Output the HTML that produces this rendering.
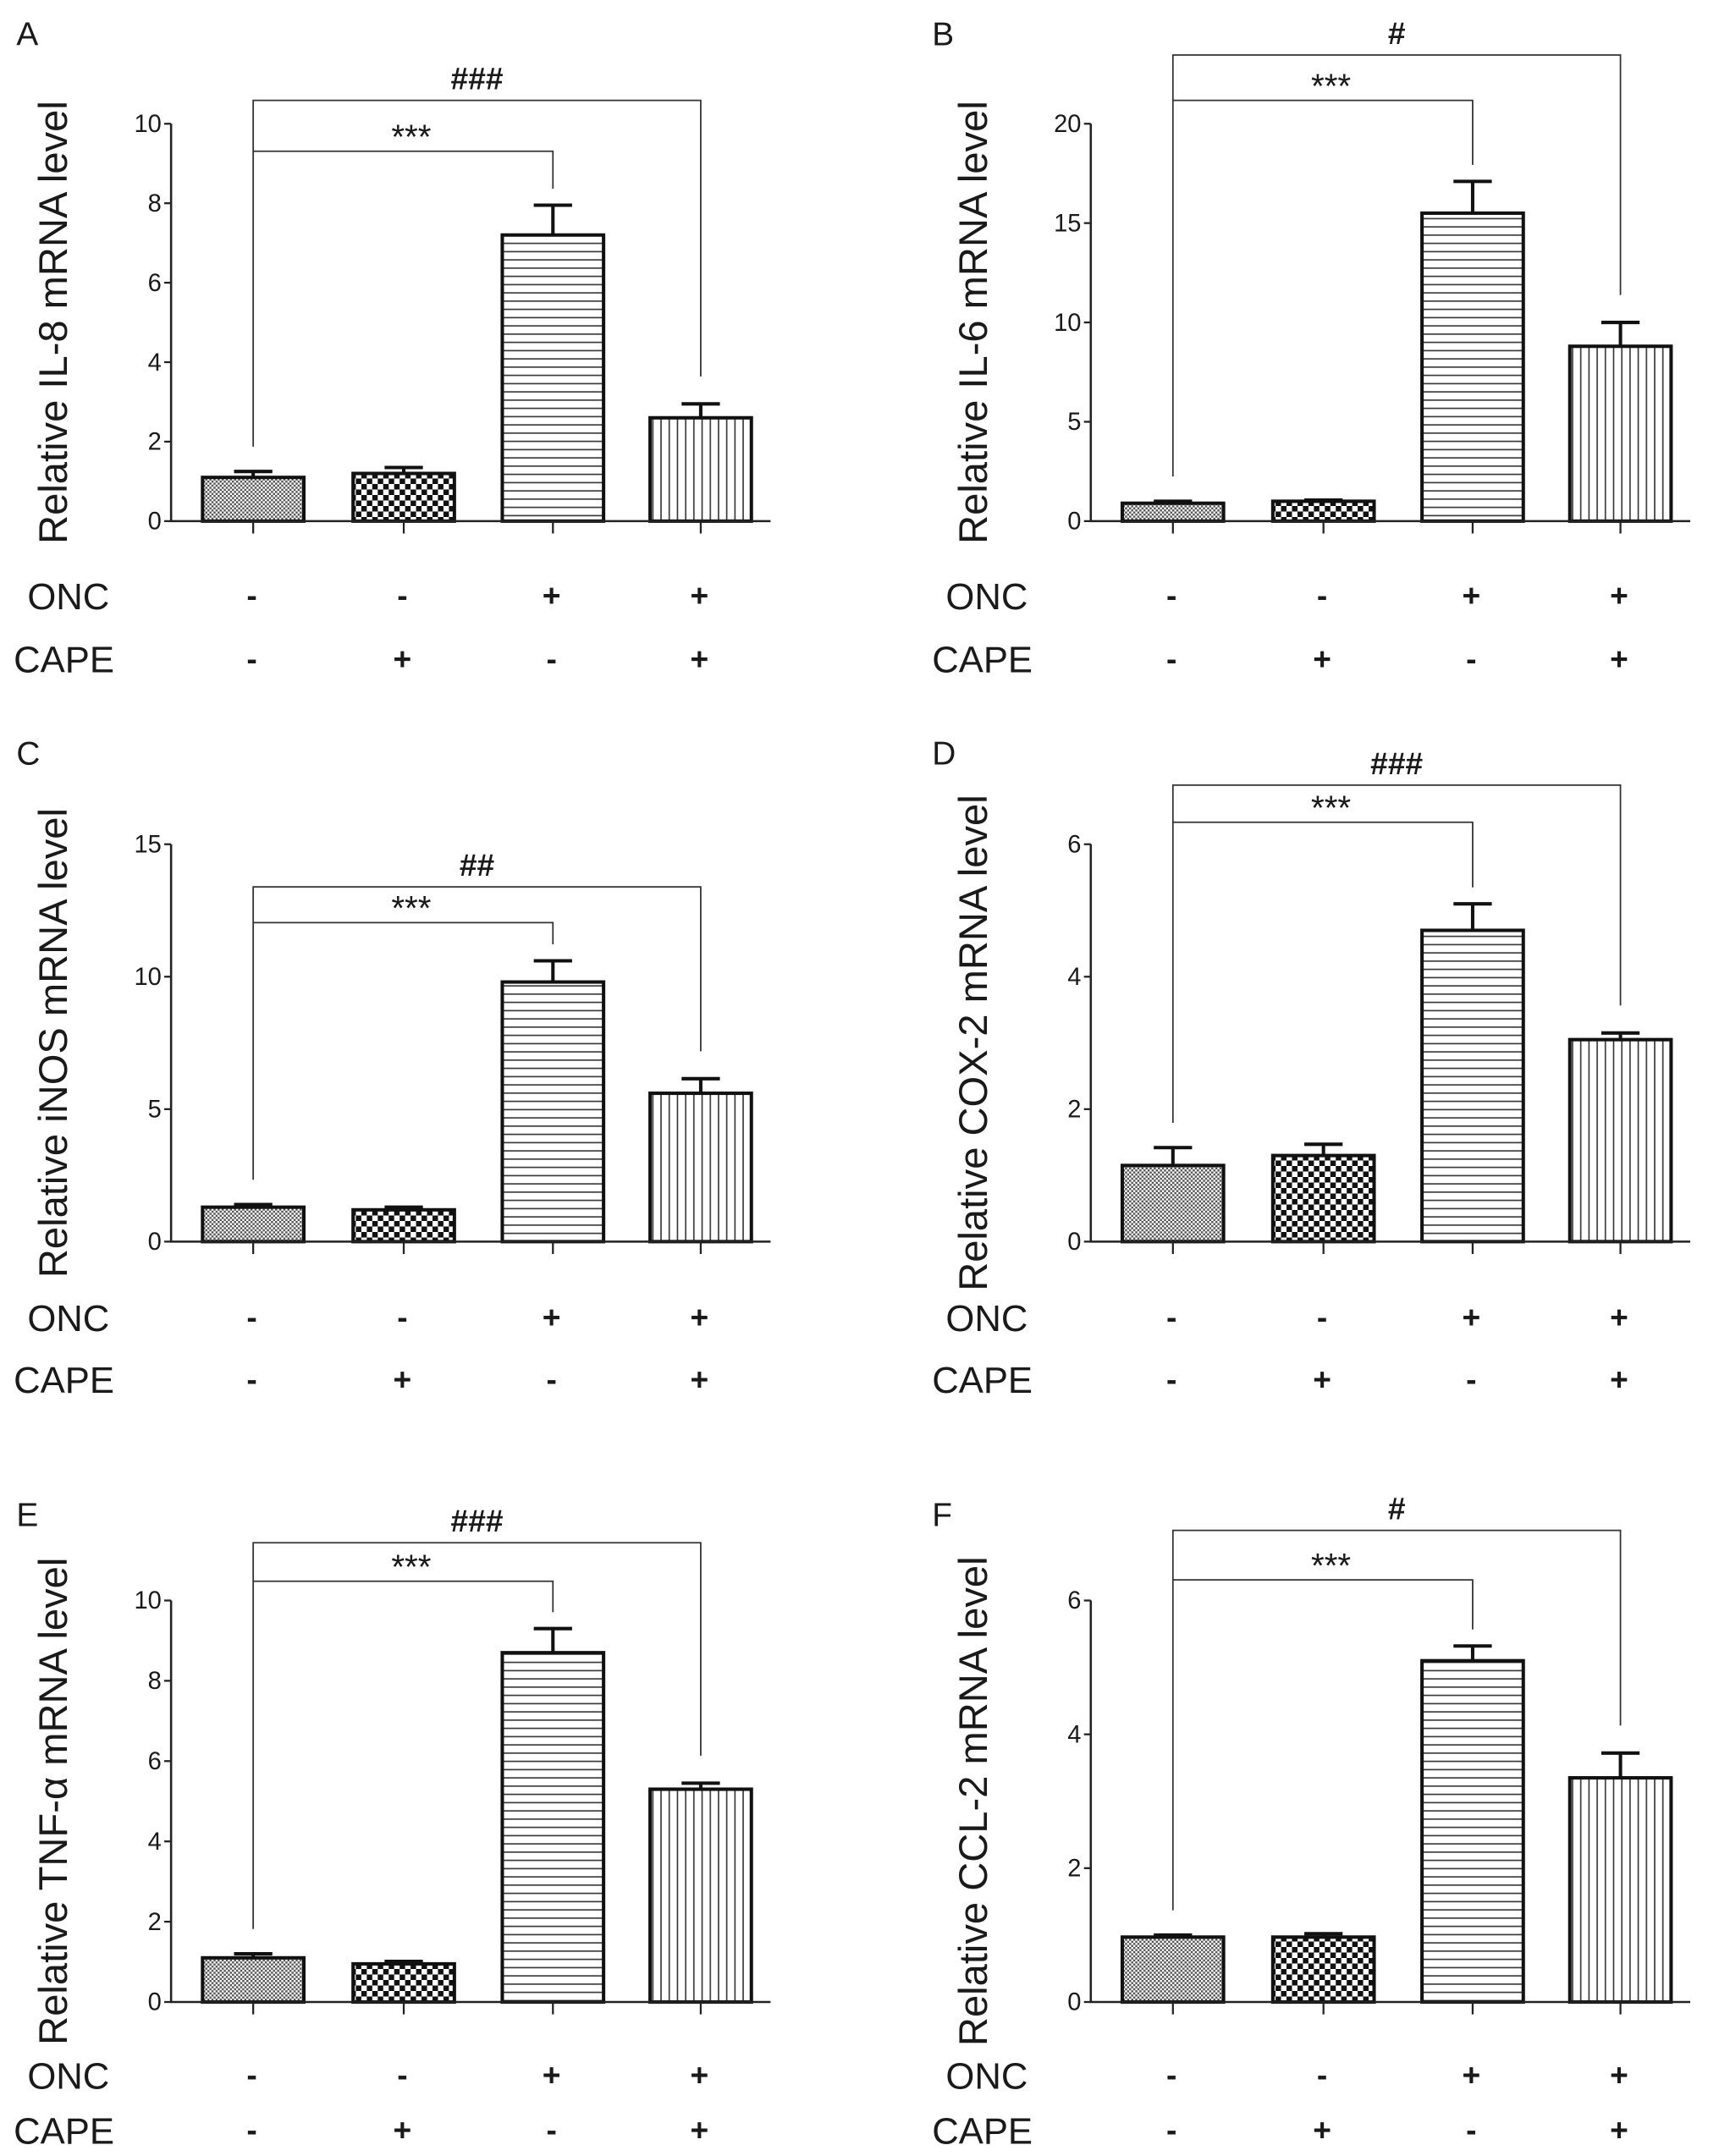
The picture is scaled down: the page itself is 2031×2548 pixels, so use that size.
<!DOCTYPE html>
<html><head><meta charset="utf-8">
<style>
html,body{margin:0;padding:0;background:#fff;}
svg{display:block;}
text{font-family:"Liberation Sans",Arial,sans-serif;fill:#1a1a1a;}
</style></head>
<body>
<svg id="fig" width="2031" height="2548" viewBox="0 0 1256 1568" preserveAspectRatio="none" xmlns="http://www.w3.org/2000/svg">
<defs>
<pattern id="pDots" patternUnits="userSpaceOnUse" width="3" height="3"><rect width="3" height="3" fill="#fff"/><rect width="1.5" height="1.5" fill="#555"/><rect x="1.5" y="1.5" width="1.5" height="1.5" fill="#555"/></pattern>
<pattern id="pCheck" patternUnits="userSpaceOnUse" width="8" height="8"><rect width="8" height="8" fill="#fff"/><rect width="4" height="4" fill="#111"/><rect x="4" y="4" width="4" height="4" fill="#111"/></pattern>
<pattern id="pHoriz" patternUnits="userSpaceOnUse" width="8" height="6"><rect width="8" height="6" fill="#fff"/><rect y="2.5" width="8" height="1" fill="#333"/></pattern>
<pattern id="pVert" patternUnits="userSpaceOnUse" width="6" height="8"><rect width="6" height="8" fill="#fff"/><rect x="2.5" width="1" height="8" fill="#333"/></pattern>
</defs>
</svg>
<script>
// ---- data ----
const panelLetters = ["A","B","C","D","E","F"];
const yTitles = ["Relative IL-8 mRNA level","Relative IL-6 mRNA level","Relative iNOS mRNA level","Relative COX-2 mRNA level","Relative TNF-\u03b1 mRNA level","Relative CCL-2 mRNA level"];
const yMaxes = [10, 20, 15, 6, 10, 6];
const tickLabelsA = [0,2,4,6,8,10];
const tickLabelsB = [0,5,10,15,20];
const tickLabelsC = [0,5,10,15];
const tickLabelsD = [0,2,4,6];
const tickLabelsE = [0,2,4,6,8,10];
const tickLabelsF = [0,2,4,6];
const valuesA = [1.1, 1.2, 7.2, 2.6];
const errorsA = [0.15, 0.15, 0.75, 0.35];
const valuesB = [0.9, 1.0, 15.5, 8.8];
const errorsB = [0.1, 0.06, 1.6, 1.2];
const valuesC = [1.3, 1.2, 9.8, 5.6];
const errorsC = [0.1, 0.1, 0.8, 0.55];
const valuesD = [1.15, 1.3, 4.7, 3.05];
const errorsD = [0.27, 0.17, 0.4, 0.1];
const valuesE = [1.1, 0.95, 8.7, 5.3];
const errorsE = [0.1, 0.06, 0.6, 0.15];
const valuesF = [0.97, 0.97, 5.1, 3.35];
const errorsF = [0.03, 0.05, 0.22, 0.37];
const innerMarks = ["***","***","***","***","***","***"];
const outerMarks = ["###","#","##","###","###","#"];
const oncSigns = ["-","-","+","+"];
const capeSigns = ["-","+","-","+"];

const allTicks=[tickLabelsA,tickLabelsB,tickLabelsC,tickLabelsD,tickLabelsE,tickLabelsF];
const allValues=[valuesA,valuesB,valuesC,valuesD,valuesE,valuesF];
const allErrors=[errorsA,errorsB,errorsC,errorsD,errorsE,errorsF];

// ---- layout (display units) ----
const layout=[
 {ax:125,base:379,top:90,outerY:73,innerY:110,onc:433,cape:479,lblX:20,letterX:12,letterY:33},
 {ax:797,base:379,top:90,outerY:40,innerY:73,onc:433,cape:479,lblX:691,letterX:681,letterY:33},
 {ax:125,base:903,top:614,outerY:645,innerY:671,onc:958,cape:1003,lblX:20,letterX:12,letterY:556},
 {ax:797,base:903,top:614,outerY:571,innerY:598,onc:958,cape:1003,lblX:691,letterX:681,letterY:556},
 {ax:125,base:1456,top:1164,outerY:1122,innerY:1150,onc:1509,cape:1549,lblX:20,letterX:12,letterY:1110},
 {ax:797,base:1456,top:1164,outerY:1113,innerY:1149,onc:1509,cape:1549,lblX:691,letterX:681,letterY:1110}
];
const barOffsets=[60,170,279,387];
const barW=74;
const fills=["url(#pDots)","url(#pCheck)","url(#pHoriz)","url(#pVert)"];
const NS="http://www.w3.org/2000/svg";
const svg=document.getElementById('fig');
function mk(tag,attrs,parent){const e=document.createElementNS(NS,tag);for(const k in attrs)e.setAttribute(k,attrs[k]);(parent||svg).appendChild(e);return e;}

panelLetters.forEach((L,p)=>{
  const c=layout[p];
  const g=mk('g',{});
  
  
  const yS=v=>c.base-(v/yMaxes[p])*(c.base-c.top);
  const xS=i=>c.ax+barOffsets[i];
  const lt=mk('text',{x:c.letterX,y:c.letterY,'font-size':24},g);lt.textContent=L;
  
  
  const yt=mk('text',{x:0,y:0,'font-size':29,'text-anchor':'middle',transform:`translate(${c.ax-76},${(c.base+c.top)/2-0}) rotate(-90)`},g);
  yt.textContent=yTitles[p];
  
  
  allValues[p].forEach((v,i)=>{
    const x=xS(i), y=yS(v), ey=yS(v+allErrors[p][i]);
    const eb=mk('path',{d:`M${x} ${y}V${ey}M${x-14} ${ey}H${x+14}`,stroke:'#111','stroke-width':2.5,fill:'none'},g);
    
    
    const r=mk('rect',{x:x-barW/2,y:y,width:barW,height:c.base-y,fill:fills[i],stroke:'#111','stroke-width':2.5},g);
    
    
  });
  const axis=mk('path',{d:`M${c.ax} ${c.top}V${c.base}H${c.ax+438}`,stroke:'#222','stroke-width':1.6,fill:'none'},g);
  
  
  allTicks[p].forEach(t=>{
    const y=yS(t);
    mk('line',{x1:c.ax-5,x2:c.ax,y1:y,y2:y,stroke:'#222','stroke-width':1.4},g);
    const tx=mk('text',{x:c.ax-7,y:y+6,'font-size':18,'text-anchor':'end'},g);tx.textContent=t;
    
    
  });
  for(let i=0;i<4;i++){mk('line',{x1:xS(i),x2:xS(i),y1:c.base,y2:c.base+9,stroke:'#222','stroke-width':1.4},g);}
  const v=allValues[p],e=allErrors[p];
  const leftEnd=yS(v[0]+e[0])-18, innerEnd=yS(v[2]+e[2])-12, outerEnd=yS(v[3]+e[3])-20;
  const br=mk('path',{d:`M${xS(0)} ${leftEnd}V${c.outerY}H${xS(3)}V${outerEnd}M${xS(0)} ${c.innerY}H${xS(2)}V${innerEnd}`,stroke:'#333','stroke-width':1.1,fill:'none'},g);
  
  
  const im=mk('text',{x:(xS(0)+xS(2))/2+6,y:c.innerY-2,'font-size':25,'text-anchor':'middle'},g);im.textContent=innerMarks[p];
  
  
  const om=mk('text',{x:(xS(0)+xS(3))/2,y:c.outerY-8,'font-size':23,'text-anchor':'middle','font-weight':'bold'},g);om.textContent=outerMarks[p];
  
  
  const on=mk('text',{x:c.lblX,y:c.onc+10,'font-size':27},g);on.textContent='ONC';
  
  
  const ca=mk('text',{x:c.lblX-10,y:c.cape+10,'font-size':27},g);ca.textContent='CAPE';
  
  
  for(let i=0;i<4;i++){
    const s1=mk('text',{x:xS(i)-1,y:c.onc+8,'font-size':23,'text-anchor':'middle','font-weight':'bold'},g);s1.textContent=oncSigns[i];
    
    
    const s2=mk('text',{x:xS(i)-1,y:c.cape+8,'font-size':23,'text-anchor':'middle','font-weight':'bold'},g);s2.textContent=capeSigns[i];
    
    
  }
});
</script>
</body></html>
